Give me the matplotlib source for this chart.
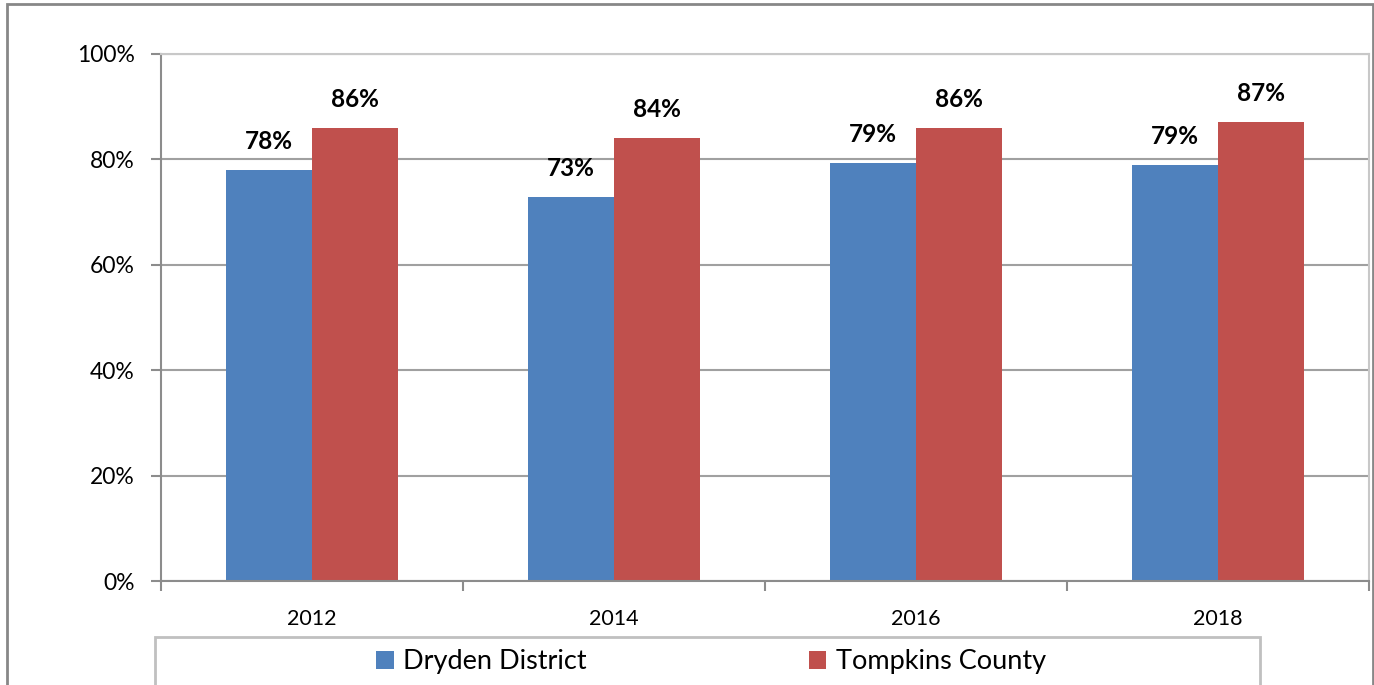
import numpy as np
import matplotlib
matplotlib.use('Agg')
import matplotlib.pyplot as plt
from matplotlib.patches import Rectangle
from matplotlib.ticker import FixedLocator

plt.rcParams['font.family'] = ['Lato', 'DejaVu Sans']

years = ['2012', '2014', '2016', '2018']
dryden = [78.0, 72.9, 79.4, 79.0]
tompkins = [86.0, 84.1, 86.0, 87.1]
dryden_lbl = ['78%', '73%', '79%', '79%']
tompkins_lbl = ['86%', '84%', '86%', '87%']
yticks = [0, 20, 40, 60, 80, 100]

blue = '#4F81BD'
red = '#C0504D'

fig = plt.figure(figsize=(13.74, 6.85), dpi=100)
ax = fig.add_axes([161/1374, 1-581/685, 1208/1374, 527/685])

x = np.arange(len(years))
w = 0.285
b1 = ax.bar(x - w/2, dryden, w, color=blue, linewidth=0, label='Dryden District')
b2 = ax.bar(x + w/2, tompkins, w, color=red, linewidth=0, label='Tompkins County')

for xi, v, s in zip(x - w/2, dryden, dryden_lbl):
    ax.annotate(s, (xi, v), xytext=(0, 12), textcoords='offset points',
                ha='center', va='bottom', fontsize=17.5, fontweight='bold')
for xi, v, s in zip(x + w/2, tompkins, tompkins_lbl):
    ax.annotate(s, (xi, v), xytext=(0, 12), textcoords='offset points',
                ha='center', va='bottom', fontsize=17.5, fontweight='bold')

ax.set_xlim(-0.5, len(years) - 0.5)
ax.set_ylim(0, 100)
ax.set_yticks(yticks)
ax.set_yticklabels([f'{t}%' for t in yticks], fontsize=16.5)
ax.set_xticks(x)
ax.set_xticklabels(years, fontsize=15.5)
ax.xaxis.set_minor_locator(FixedLocator(np.arange(-0.5, len(years), 1.0)))
ax.tick_params(axis='x', which='major', length=0, pad=20)
ax.tick_params(axis='x', which='minor', length=7, width=1.5, color='#8c8c8c')
ax.tick_params(axis='y', length=7, width=1.5, color='#8c8c8c', pad=12)

ax.set_axisbelow(True)
ax.yaxis.grid(True, color='#a0a0a0', linewidth=1.5)
for s in ['left', 'bottom']:
    ax.spines[s].set_color('#8c8c8c')
    ax.spines[s].set_linewidth(1.5)
for s in ['top', 'right']:
    ax.spines[s].set_color('#c8c8c8')
    ax.spines[s].set_linewidth(1.5)

# outer chart frame
fig.patches.append(Rectangle((7/1374, -0.1), 1366/1374, 1.1 - 4/685,
                             transform=fig.transFigure, fill=False,
                             edgecolor='#878787', linewidth=2))
# legend box
fig.patches.append(Rectangle((155/1374, -0.1), 1105/1374, 0.1 + 1 - 637/685,
                             transform=fig.transFigure, fill=False,
                             edgecolor='#c0c0c0', linewidth=2))
fig.legend(handles=[b1, b2], loc='center left', bbox_to_anchor=(376/1374, 1-662/685),
           ncol=2, frameon=False, fontsize=19.5, handlelength=0.65, handleheight=0.65,
           handletextpad=0.35, columnspacing=8.2, borderpad=0, borderaxespad=0)

fig.savefig('out.png', dpi=100)
